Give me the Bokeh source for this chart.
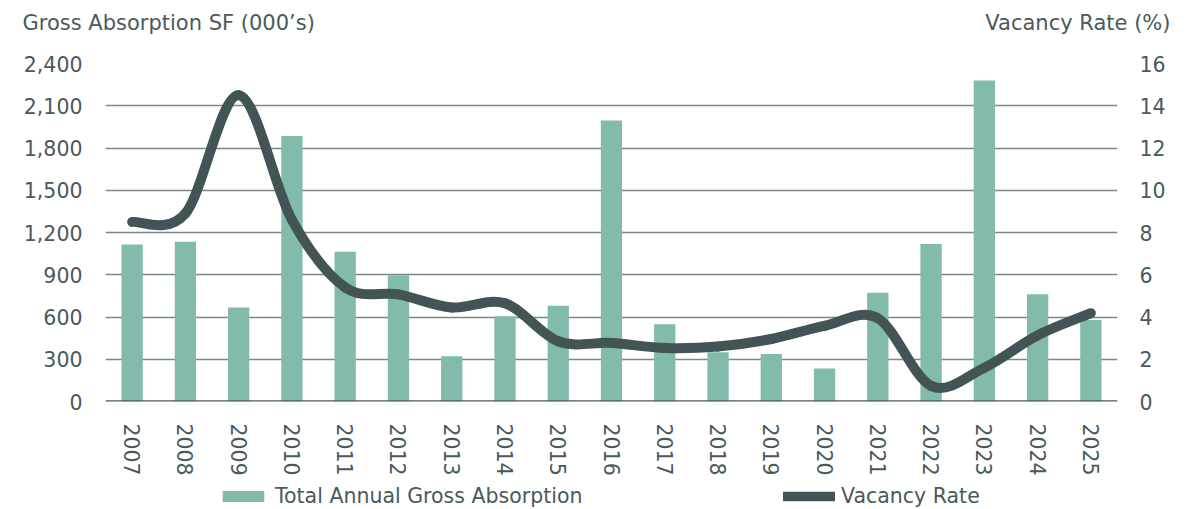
from bokeh.plotting import figure
from bokeh.models import (Range1d, LinearAxis, FixedTicker, NumeralTickFormatter,
                          Legend, LegendItem, Span, Label)
from bokeh.embed import file_html
from bokeh.resources import INLINE

years = ["2007", "2008", "2009", "2010", "2011", "2012", "2013", "2014", "2015", "2016",
         "2017", "2018", "2019", "2020", "2021", "2022", "2023", "2024", "2025"]
absorption = [1115, 1135, 668, 1886, 1063, 896, 322, 605, 680, 1996,
              549, 350, 338, 234, 772, 1119, 2280, 762, 579]
vacancy = [8.5, 8.9, 14.5, 8.6, 5.4, 5.07, 4.45, 4.65, 2.85, 2.77,
           2.53, 2.6, 2.96, 3.58, 3.94, 0.74, 1.6, 3.13, 4.18]
left_ticks = [0, 300, 600, 900, 1200, 1500, 1800, 2100, 2400]
right_ticks = [0, 2, 4, 6, 8, 10, 12, 14, 16]
left_title = "Gross Absorption SF (000\u2019s)"
right_title = "Vacancy Rate (%)"
bar_label = "Total Annual Gross Absorption"
line_label = "Vacancy Rate"

BAR = "#82bbac"
LINE = "#435456"
TEXT = "#4a5a5a"
GRID = "#7c8787"
FONT = "DejaVu Sans"
FS = "20.5px"
W = 1193
TOP_H, MAIN_H, BOT_H = 45, 433, 31


def blank(h):
    f = figure(width=W, height=h, output_backend="svg", toolbar_location=None,
               x_range=Range1d(0, W), y_range=Range1d(0, h),
               x_axis_type=None, y_axis_type=None, min_border=0,
               min_border_left=0, min_border_right=0, min_border_top=0, min_border_bottom=0)
    f.outline_line_color = None
    f.xgrid.visible = False
    f.ygrid.visible = False
    f.title.visible = False
    return f


# ---- header: the two axis titles
top = blank(TOP_H)
for txt, x, align in ((left_title, 22, "left"), (right_title, 1170, "right")):
    top.add_layout(Label(x=x, y=23, text=txt, text_font=FONT, text_font_size="21px",
                         text_color=TEXT, text_align=align, text_baseline="alphabetic"))

# ---- main chart
xs = list(range(len(years)))
p = figure(width=W, height=MAIN_H, output_backend="svg", toolbar_location=None,
           x_range=Range1d(-0.5, len(years) - 0.5), y_range=Range1d(0, 2400),
           min_border_left=105, min_border_right=76, min_border_top=18, min_border_bottom=74)
p.title.visible = False
p.extra_y_ranges = {"right": Range1d(0, 16)}
p.outline_line_color = None

p.yaxis.ticker = FixedTicker(ticks=left_ticks)
p.yaxis.formatter = NumeralTickFormatter(format="0,0")
p.xaxis.ticker = FixedTicker(ticks=xs)
p.xaxis.major_label_overrides = {i: y for i, y in zip(xs, years)}
p.xaxis.major_label_orientation = "vertical"

ra = LinearAxis(y_range_name="right", ticker=FixedTicker(ticks=right_ticks))
p.add_layout(ra, "right")

for ax, standoff in ((p.yaxis[0], 17), (ra, 16), (p.xaxis[0], 16)):
    ax.axis_line_color = None
    ax.major_tick_line_color = None
    ax.minor_tick_line_color = None
    ax.major_label_text_font = FONT
    ax.major_label_text_font_size = FS
    ax.major_label_text_color = TEXT
    ax.major_label_standoff = standoff

p.xgrid.grid_line_color = None
p.ygrid.ticker = FixedTicker(ticks=left_ticks[1:])
p.ygrid.grid_line_color = GRID
p.ygrid.grid_line_width = 1.3

p.vbar(x=xs, top=absorption, width=0.4, bottom=0, fill_color=BAR, line_color=None)
p.add_layout(Span(location=0, dimension="width", line_color="#4b5858", line_width=2.5))

# smooth vacancy line: Catmull-Rom segments through the data points
n = len(vacancy)
seg = dict(x0=[], y0=[], x1=[], y1=[], cx0=[], cy0=[], cx1=[], cy1=[])
for i in range(n - 1):
    im, ip = max(i - 1, 0), min(i + 2, n - 1)
    seg["x0"].append(xs[i]); seg["y0"].append(vacancy[i])
    seg["x1"].append(xs[i + 1]); seg["y1"].append(vacancy[i + 1])
    seg["cx0"].append(xs[i] + (xs[i + 1] - xs[im]) / 6)
    seg["cy0"].append(vacancy[i] + (vacancy[i + 1] - vacancy[im]) / 6)
    seg["cx1"].append(xs[i + 1] - (xs[ip] - xs[i]) / 6)
    seg["cy1"].append(vacancy[i + 1] - (vacancy[ip] - vacancy[i]) / 6)
p.bezier(**seg, line_color=LINE, line_width=10, line_cap="round", y_range_name="right")

# ---- footer: series legend; proxies are a zero-height bar and a one-point line,
# both of which draw nothing in the plot area
bot = blank(BOT_H)
lg_bar = bot.vbar(x=xs[:1], top=absorption[:1], bottom=absorption[:1], width=0.4,
                  fill_color=BAR, line_color=None)
lg_line = bot.line(x=xs[:1], y=vacancy[:1], line_color=LINE, line_width=9.5,
                   line_cap="round")
legend = Legend(items=[LegendItem(label=bar_label, renderers=[lg_bar]),
                       LegendItem(label=line_label, renderers=[lg_line])],
                location=(217, -1), orientation="horizontal", padding=0, margin=0,
                glyph_width=52, glyph_height=14, label_height=28, label_standoff=6,
                label_width=330, spacing=178,
                label_text_font=FONT, label_text_font_size=FS, label_text_color=TEXT,
                background_fill_alpha=0, border_line_color=None)
bot.add_layout(legend, "center")

open("out.html", "w").write(file_html([top, p, bot], INLINE))
